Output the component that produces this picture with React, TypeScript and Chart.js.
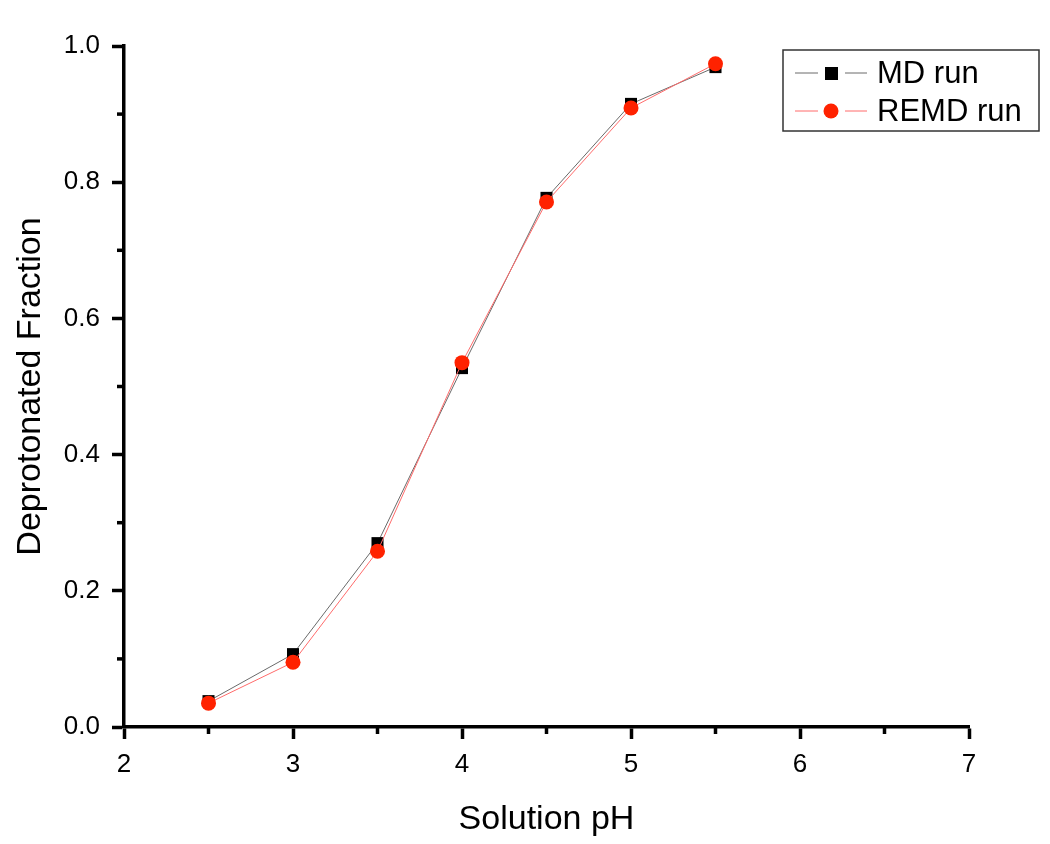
import React, { useEffect, useRef } from 'react';
import { Chart, registerables } from 'chart.js';

Chart.register(...registerables);

const pHValues = [2.5, 3.0, 3.5, 4.0, 4.5, 5.0, 5.5];
const mdFraction = [0.038, 0.107, 0.270, 0.527, 0.777, 0.915, 0.969];
const remdFraction = [0.035, 0.095, 0.258, 0.535, 0.771, 0.909, 0.974];
const seriesNames = ['MD run', 'REMD run'];
const xMinorTicks = [2.5, 3.5, 4.5, 5.5, 6.5];
const yMinorTicks = [0.1, 0.3, 0.5, 0.7, 0.9];
const xTitle = 'Solution pH';
const yTitle = 'Deprotonated Fraction';

const FONT = '"Liberation Sans", Arial, sans-serif';
const MD_LINE = '#6a6a6a';
const MD_POINT = '#000000';
const REMD_LINE = '#ff6b6b';
const REMD_POINT = '#ff2200';

const minorTickPlugin = {
  id: 'minorTicks',
  afterDraw(chart: any) {
    const ctx = chart.ctx;
    const xs = chart.scales.x;
    const ys = chart.scales.y;
    const area = chart.chartArea;
    ctx.save();
    ctx.strokeStyle = '#000';
    ctx.lineWidth = 3.5;
    xMinorTicks.forEach((v) => {
      const px = xs.getPixelForValue(v);
      ctx.beginPath();
      ctx.moveTo(px, area.bottom);
      ctx.lineTo(px, area.bottom + 7);
      ctx.stroke();
    });
    yMinorTicks.forEach((v) => {
      const py = ys.getPixelForValue(v);
      ctx.beginPath();
      ctx.moveTo(area.left, py);
      ctx.lineTo(area.left - 7, py);
      ctx.stroke();
    });
    ctx.restore();
  },
};

const legendPlugin = {
  id: 'customLegend',
  afterDraw(chart: any) {
    const ctx = chart.ctx;
    const area = chart.chartArea;
    const boxRight = area.right + 70;
    const boxLeft = boxRight - 256;
    const boxTop = area.top + 4;
    const boxH = 81;
    ctx.save();
    ctx.fillStyle = '#fff';
    ctx.fillRect(boxLeft, boxTop, 256, boxH);
    ctx.strokeStyle = '#333';
    ctx.lineWidth = 1.5;
    ctx.strokeRect(boxLeft, boxTop, 256, boxH);
    const rows = [
      { name: seriesNames[0], line: MD_LINE, point: MD_POINT, square: true, y: boxTop + 23 },
      { name: seriesNames[1], line: REMD_LINE, point: REMD_POINT, square: false, y: boxTop + 61 },
    ];
    rows.forEach((r) => {
      const x0 = boxLeft + 12;
      ctx.strokeStyle = r.line;
      ctx.lineWidth = 1;
      ctx.beginPath();
      ctx.moveTo(x0, r.y);
      ctx.lineTo(x0 + 23, r.y);
      ctx.moveTo(x0 + 50, r.y);
      ctx.lineTo(x0 + 72, r.y);
      ctx.stroke();
      ctx.fillStyle = r.point;
      if (r.square) {
        ctx.fillRect(x0 + 30, r.y - 6, 13, 13);
      } else {
        ctx.beginPath();
        ctx.arc(x0 + 36, r.y, 7.5, 0, Math.PI * 2);
        ctx.fill();
      }
      ctx.fillStyle = '#000';
      ctx.font = `31px ${FONT}`;
      ctx.textAlign = 'left';
      ctx.textBaseline = 'middle';
      ctx.fillText(r.name, x0 + 82, r.y + 1);
    });
    ctx.restore();
  },
};

export default function App() {
  const canvasRef = useRef<HTMLCanvasElement | null>(null);

  useEffect(() => {
    document.body.style.margin = '0';
    const canvas = canvasRef.current;
    if (!canvas) return;
    const chart = new Chart(canvas, {
      type: 'line',
      data: {
        datasets: [
          {
            label: seriesNames[0],
            data: pHValues.map((x, i) => ({ x, y: mdFraction[i] })),
            borderColor: MD_LINE,
            backgroundColor: MD_POINT,
            borderWidth: 1,
            pointStyle: 'rect',
            pointRadius: 8.5,
            pointBorderWidth: 0,
            pointBackgroundColor: MD_POINT,
            tension: 0,
            order: 2,
          },
          {
            label: seriesNames[1],
            data: pHValues.map((x, i) => ({ x, y: remdFraction[i] })),
            borderColor: REMD_LINE,
            backgroundColor: REMD_POINT,
            borderWidth: 1,
            pointStyle: 'circle',
            pointRadius: 7.5,
            pointBorderWidth: 0,
            pointBackgroundColor: REMD_POINT,
            tension: 0,
            order: 1,
          },
        ],
      },
      options: {
        animation: false,
        responsive: false,
        maintainAspectRatio: false,
        layout: { padding: { left: 0, right: 81, top: 46, bottom: 0 } },
        plugins: {
          legend: { display: false },
          tooltip: { enabled: false },
        },
        scales: {
          x: {
            type: 'linear',
            min: 2,
            max: 7,
            afterFit(scale: any) {
              scale.height = 117;
            },
            ticks: {
              stepSize: 1,
              color: '#000',
              font: { family: FONT, size: 26 },
              padding: 10,
              maxRotation: 0,
            },
            grid: {
              display: true,
              drawOnChartArea: false,
              drawTicks: true,
              tickLength: 12,
              tickWidth: 3.5,
              tickColor: '#000',
            },
            border: { display: true, color: '#000', width: 3.5 },
            title: {
              display: true,
              text: xTitle,
              color: '#000',
              font: { family: FONT, size: 34 },
              padding: { top: 0, bottom: 4 },
            },
          },
          y: {
            type: 'linear',
            min: 0,
            max: 1,
            afterFit(scale: any) {
              scale.width = 124;
            },
            ticks: {
              stepSize: 0.2,
              color: '#000',
              font: { family: FONT, size: 26 },
              padding: 12,
              callback: (v: any) => Number(v).toFixed(1),
            },
            grid: {
              display: true,
              drawOnChartArea: false,
              drawTicks: true,
              tickLength: 12,
              tickWidth: 3.5,
              tickColor: '#000',
            },
            border: { display: true, color: '#000', width: 3.5 },
            title: {
              display: true,
              text: yTitle,
              color: '#000',
              font: { family: FONT, size: 34 },
              padding: { top: 10, bottom: 0 },
            },
          },
        },
      },
      plugins: [minorTickPlugin, legendPlugin],
    } as any);
    return () => chart.destroy();
  }, []);

  return (
    <div style={{ position: 'absolute', left: 0, top: 0, width: 1050, height: 844, background: '#fff' }}>
      <canvas ref={canvasRef} width={1050} height={844} style={{ width: 1050, height: 844, display: 'block' }} />
    </div>
  );
}
